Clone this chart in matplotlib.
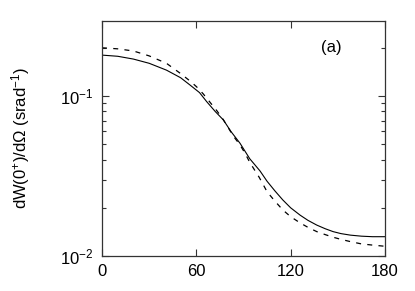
import matplotlib
matplotlib.use("Agg")
import matplotlib.pyplot as plt
from matplotlib.ticker import LogLocator, NullFormatter, FixedLocator

plt.rcParams['font.family'] = ['Liberation Sans', 'DejaVu Sans']
plt.rcParams['mathtext.fontset'] = 'custom'
plt.rcParams['mathtext.rm'] = 'Liberation Sans'
plt.rcParams['mathtext.it'] = 'Liberation Sans:italic'
plt.rcParams['mathtext.bf'] = 'Liberation Sans:bold'

# angle (degrees)
angle_solid = [0, 10, 20, 30, 41, 50, 56, 62, 66.6, 72, 77.2, 82, 87.8, 94, 100.5, 105, 110, 115, 120, 126, 131, 136.6, 142, 147, 152, 158, 165, 172, 180]
w_solid = [0.180, 0.177, 0.170, 0.160, 0.145, 0.130, 0.117, 0.105, 0.0921, 0.080, 0.0708, 0.060, 0.0506, 0.0405, 0.0340, 0.0293, 0.0255, 0.0224, 0.0200, 0.0180, 0.0167, 0.0156, 0.0148, 0.0142, 0.0138, 0.0135, 0.0133, 0.0132, 0.0132]

angle_dashed = [0, 10, 20, 30, 41, 50, 56, 60.2, 64.4, 68.7, 73, 77.2, 83.5, 87.8, 91, 94.1, 100, 105, 110, 115, 120, 126, 131, 136.6, 142, 147, 152, 158, 165, 172, 180]
w_dashed = [0.200, 0.197, 0.191, 0.178, 0.160, 0.138, 0.124, 0.114, 0.103, 0.0913, 0.081, 0.071, 0.0562, 0.0494, 0.0438, 0.0383, 0.0310, 0.0252, 0.0220, 0.0194, 0.0176, 0.0161, 0.0151, 0.0142, 0.0136, 0.0131, 0.0127, 0.0123, 0.0119, 0.0117, 0.0115]

x_ticks = [0, 60, 120, 180]
panel_label = "(a)"

fig = plt.figure(figsize=(4.15, 2.91), dpi=100)
ax = fig.add_axes([0.2458, 0.1203, 0.6819, 0.8075])

ax.plot(angle_solid, w_solid, color='black', lw=0.8)
ax.plot(angle_dashed, w_dashed, color='black', lw=0.9, dashes=(4, 5))

ax.set_yscale('log')
ax.set_xlim(0, 180)
ax.set_ylim(0.01, 0.294)
ax.xaxis.set_major_locator(FixedLocator(x_ticks))
ax.yaxis.set_major_locator(LogLocator(base=10, numticks=10))
ax.yaxis.set_minor_locator(LogLocator(base=10, subs=range(2, 10), numticks=10))
ax.yaxis.set_minor_formatter(NullFormatter())

ax.tick_params(which='both', direction='in', top=True, right=True, labelsize=12, width=0.8, color='#333333')
ax.tick_params(which='major', length=5, pad=6)
ax.tick_params(which='minor', length=3)
for s in ax.spines.values():
    s.set_linewidth(0.9)
    s.set_color('#333333')

ax.set_ylabel('dW(0$^{+}$)/dΩ (srad$^{-1}$)', fontsize=12, labelpad=20)
ax.text(146, 0.202, panel_label, fontsize=12, ha='center', va='center')

fig.savefig('out.png', dpi=100)
